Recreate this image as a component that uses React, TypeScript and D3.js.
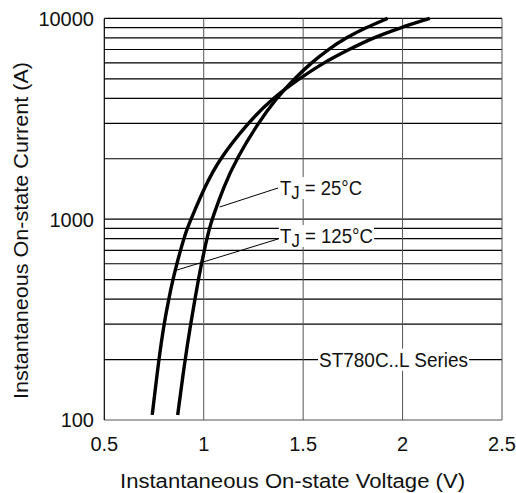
import React, { useLayoutEffect, useRef, useState } from 'react';
import * as d3 from 'd3';

// on-state current (A) sampled along both curves
const currents = [106, 200, 300, 400, 500, 600, 700, 800, 900, 1000, 1450, 2000, 3000, 4000, 5000, 6000, 7000, 8000, 9000, 10000];
// voltage (V) for Tj = 125°C
const volts125 = [0.741, 0.774, 0.8, 0.824, 0.845, 0.865, 0.883, 0.9, 0.917, 0.936, 1.005, 1.08, 1.22, 1.345, 1.48, 1.6, 1.73, 1.85, 1.99, 2.137];
// voltage (V) for Tj = 25°C
const volts25 = [0.869, 0.906, 0.934, 0.956, 0.973, 0.989, 1.003, 1.016, 1.029, 1.042, 1.1, 1.165, 1.272, 1.365, 1.455, 1.54, 1.625, 1.715, 1.815, 1.925];

const xTicks = [0.5, 1, 1.5, 2, 2.5];
const xTickLabels = ['0.5', '1', '1.5', '2', '2.5'];
const yLabelTicks = [100, 1000, 10000];
const yGrid = [200, 300, 400, 500, 600, 700, 800, 900, 1000, 2000, 3000, 4000, 5000, 6000, 7000, 8000, 9000, 10000];

const W = 516, H = 493;
const m = { left: 104.3, right: 502, top: 18.4, bottom: 420 };
const FONT = '"Liberation Sans", Arial, sans-serif';

const x = d3.scaleLinear().domain([0.5, 2.5]).range([m.left, m.right]);
const y = d3.scaleLog().domain([100, 10000]).range([m.bottom, m.top]);

const line = d3.line<[number, number]>()
  .x(d => x(d[0]))
  .y(d => y(d[1]))
  .curve(d3.curveBasis);

// label with a white box behind it that knocks out the grid
function Boxed({ x: tx, y: ty, children, size = 20, len }: any) {
  const ref = useRef<SVGTextElement>(null);
  const [bb, setBb] = useState<any>(null);
  useLayoutEffect(() => {
    if (ref.current) setBb(ref.current.getBBox());
  }, []);
  return (
    <g>
      {bb && <rect x={bb.x - 1} y={bb.y} width={bb.width + 2} height={ty + 4 - bb.y} fill="#fff" />}
      <text ref={ref} x={tx} y={ty} fontSize={size} fontFamily={FONT} fill="#111"
        stroke="#fff" strokeWidth={3} paintOrder="stroke"
        textLength={len} lengthAdjust="spacingAndGlyphs">
        {children}
      </text>
    </g>
  );
}

export default function App() {
  const c25 = currents.map((c, i) => [volts25[i], c] as [number, number]);
  const c125 = currents.map((c, i) => [volts125[i], c] as [number, number]);

  return (
    <svg width={W} height={H} style={{ position: 'absolute', left: 0, top: 0, background: '#fff' }}>
      {/* horizontal grid */}
      {yGrid.map(v => (
        <line key={v} x1={m.left} x2={m.right} y1={y(v)} y2={y(v)} stroke="#000" strokeWidth={1.2} />
      ))}
      {/* vertical grid */}
      {xTicks.slice(1).map(v => (
        <line key={v} x1={x(v)} x2={x(v)} y1={m.top} y2={m.bottom} stroke="#555" strokeWidth={1} />
      ))}
      <line x1={m.left} x2={m.right} y1={m.bottom} y2={m.bottom} stroke="#555" strokeWidth={1} />
      <line x1={m.left} x2={m.left} y1={m.top} y2={m.bottom} stroke="#000" strokeWidth={1.2} />

      {/* leaders */}
      <line x1={278} y1={188} x2={x(1.08)} y2={y(1150)} stroke="#000" strokeWidth={1} />
      <line x1={278} y1={239} x2={x(0.865)} y2={y(558)} stroke="#000" strokeWidth={1} />

      {/* curves */}
      <path d={line(c125) || ''} fill="none" stroke="#000" strokeWidth={3.4} />
      <path d={line(c25) || ''} fill="none" stroke="#000" strokeWidth={3.4} />

      {/* annotations */}
      <Boxed x={280} y={195} len={82}>
        T<tspan fontSize={18} dy={4}>J</tspan><tspan dy={-4}> = 25°C</tspan>
      </Boxed>
      <Boxed x={280} y={243} len={93}>
        T<tspan fontSize={18} dy={4}>J</tspan><tspan dy={-4}> = 125°C</tspan>
      </Boxed>
      <Boxed x={319} y={366.7} len={149}>ST780C..L Series</Boxed>

      {/* tick labels */}
      {yLabelTicks.map(v => (
        <text key={v} x={94} y={y(v) + 7.4} textAnchor="end" fontSize={20} fontFamily={FONT} fill="#111">{v}</text>
      ))}
      {xTicks.map((v, i) => (
        <text key={v} x={x(v)} y={451} textAnchor="middle" fontSize={20} fontFamily={FONT} fill="#111">{xTickLabels[i]}</text>
      ))}

      {/* axis titles */}
      <text x={292.5} y={488} textAnchor="middle" fontSize={20} fontFamily={FONT} fill="#111"
        textLength={345} lengthAdjust="spacingAndGlyphs">Instantaneous On-state Voltage (V)</text>
      <text transform="translate(28.3,230.5) rotate(-90)" textAnchor="middle" fontSize={20} fontFamily={FONT} fill="#111"
        textLength={337} lengthAdjust="spacingAndGlyphs">Instantaneous On-state Current (A)</text>
    </svg>
  );
}
